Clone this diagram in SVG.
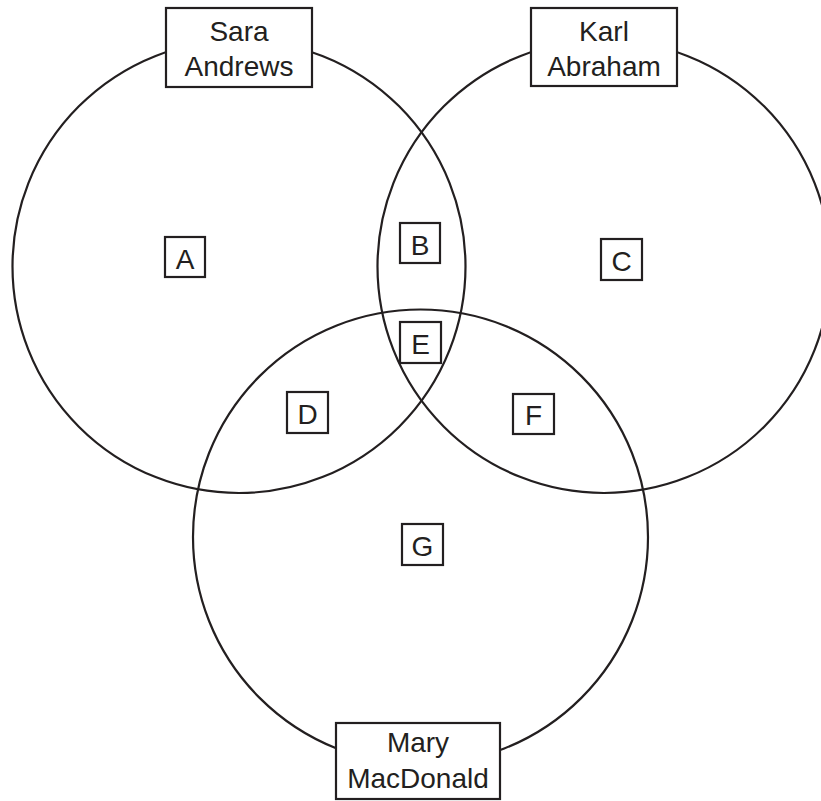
<svg xmlns="http://www.w3.org/2000/svg" width="821" height="801" viewBox="0 0 821 801">
<style>
.c{fill:none;stroke:#231f20;stroke-width:2.2}
.b{fill:#fff;stroke:#231f20;stroke-width:2.2}
.t{font-family:"Liberation Sans",Arial,sans-serif;font-size:28px;fill:#231f20;text-anchor:middle}
</style>
<rect width="821" height="801" fill="#fff"/>
<g id="circles">
<circle id="circle-sara" class="c" cx="239" cy="266.5" r="226.5"/>
<circle id="circle-karl" class="c" cx="604" cy="266.5" r="226.5"/>
<circle id="circle-mary" class="c" cx="420.5" cy="537" r="227.5"/>
</g>
<g id="sara"><rect class="b" x="166" y="8" width="146" height="79"/><text class="t" x="239" y="41">Sara</text><text class="t" x="239" y="76">Andrews</text></g>
<g id="karl"><rect class="b" x="531" y="8" width="146" height="78"/><text class="t" x="604" y="41">Karl</text><text class="t" x="604" y="76">Abraham</text></g>
<g id="mary"><rect class="b" x="336" y="723" width="164" height="76"/><text class="t" x="418" y="752">Mary</text><text class="t" x="418" y="788">MacDonald</text></g>
<g id="A"><rect class="b" x="165" y="237" width="40" height="40"/><text class="t" x="185" y="269">A</text></g>
<g id="B"><rect class="b" x="400" y="223" width="40" height="40"/><text class="t" x="420" y="255">B</text></g>
<g id="C"><rect class="b" x="601" y="239" width="41" height="41"/><text class="t" x="621.5" y="271">C</text></g>
<g id="E"><rect class="b" x="400" y="322" width="41" height="41"/><text class="t" x="420.5" y="354">E</text></g>
<g id="D"><rect class="b" x="287" y="392" width="41" height="41"/><text class="t" x="307.5" y="424">D</text></g>
<g id="F"><rect class="b" x="513" y="394" width="41" height="40"/><text class="t" x="533.5" y="425">F</text></g>
<g id="G"><rect class="b" x="402" y="524" width="41" height="41"/><text class="t" x="422.5" y="556">G</text></g>
<g id="connectors"/>
</svg>
